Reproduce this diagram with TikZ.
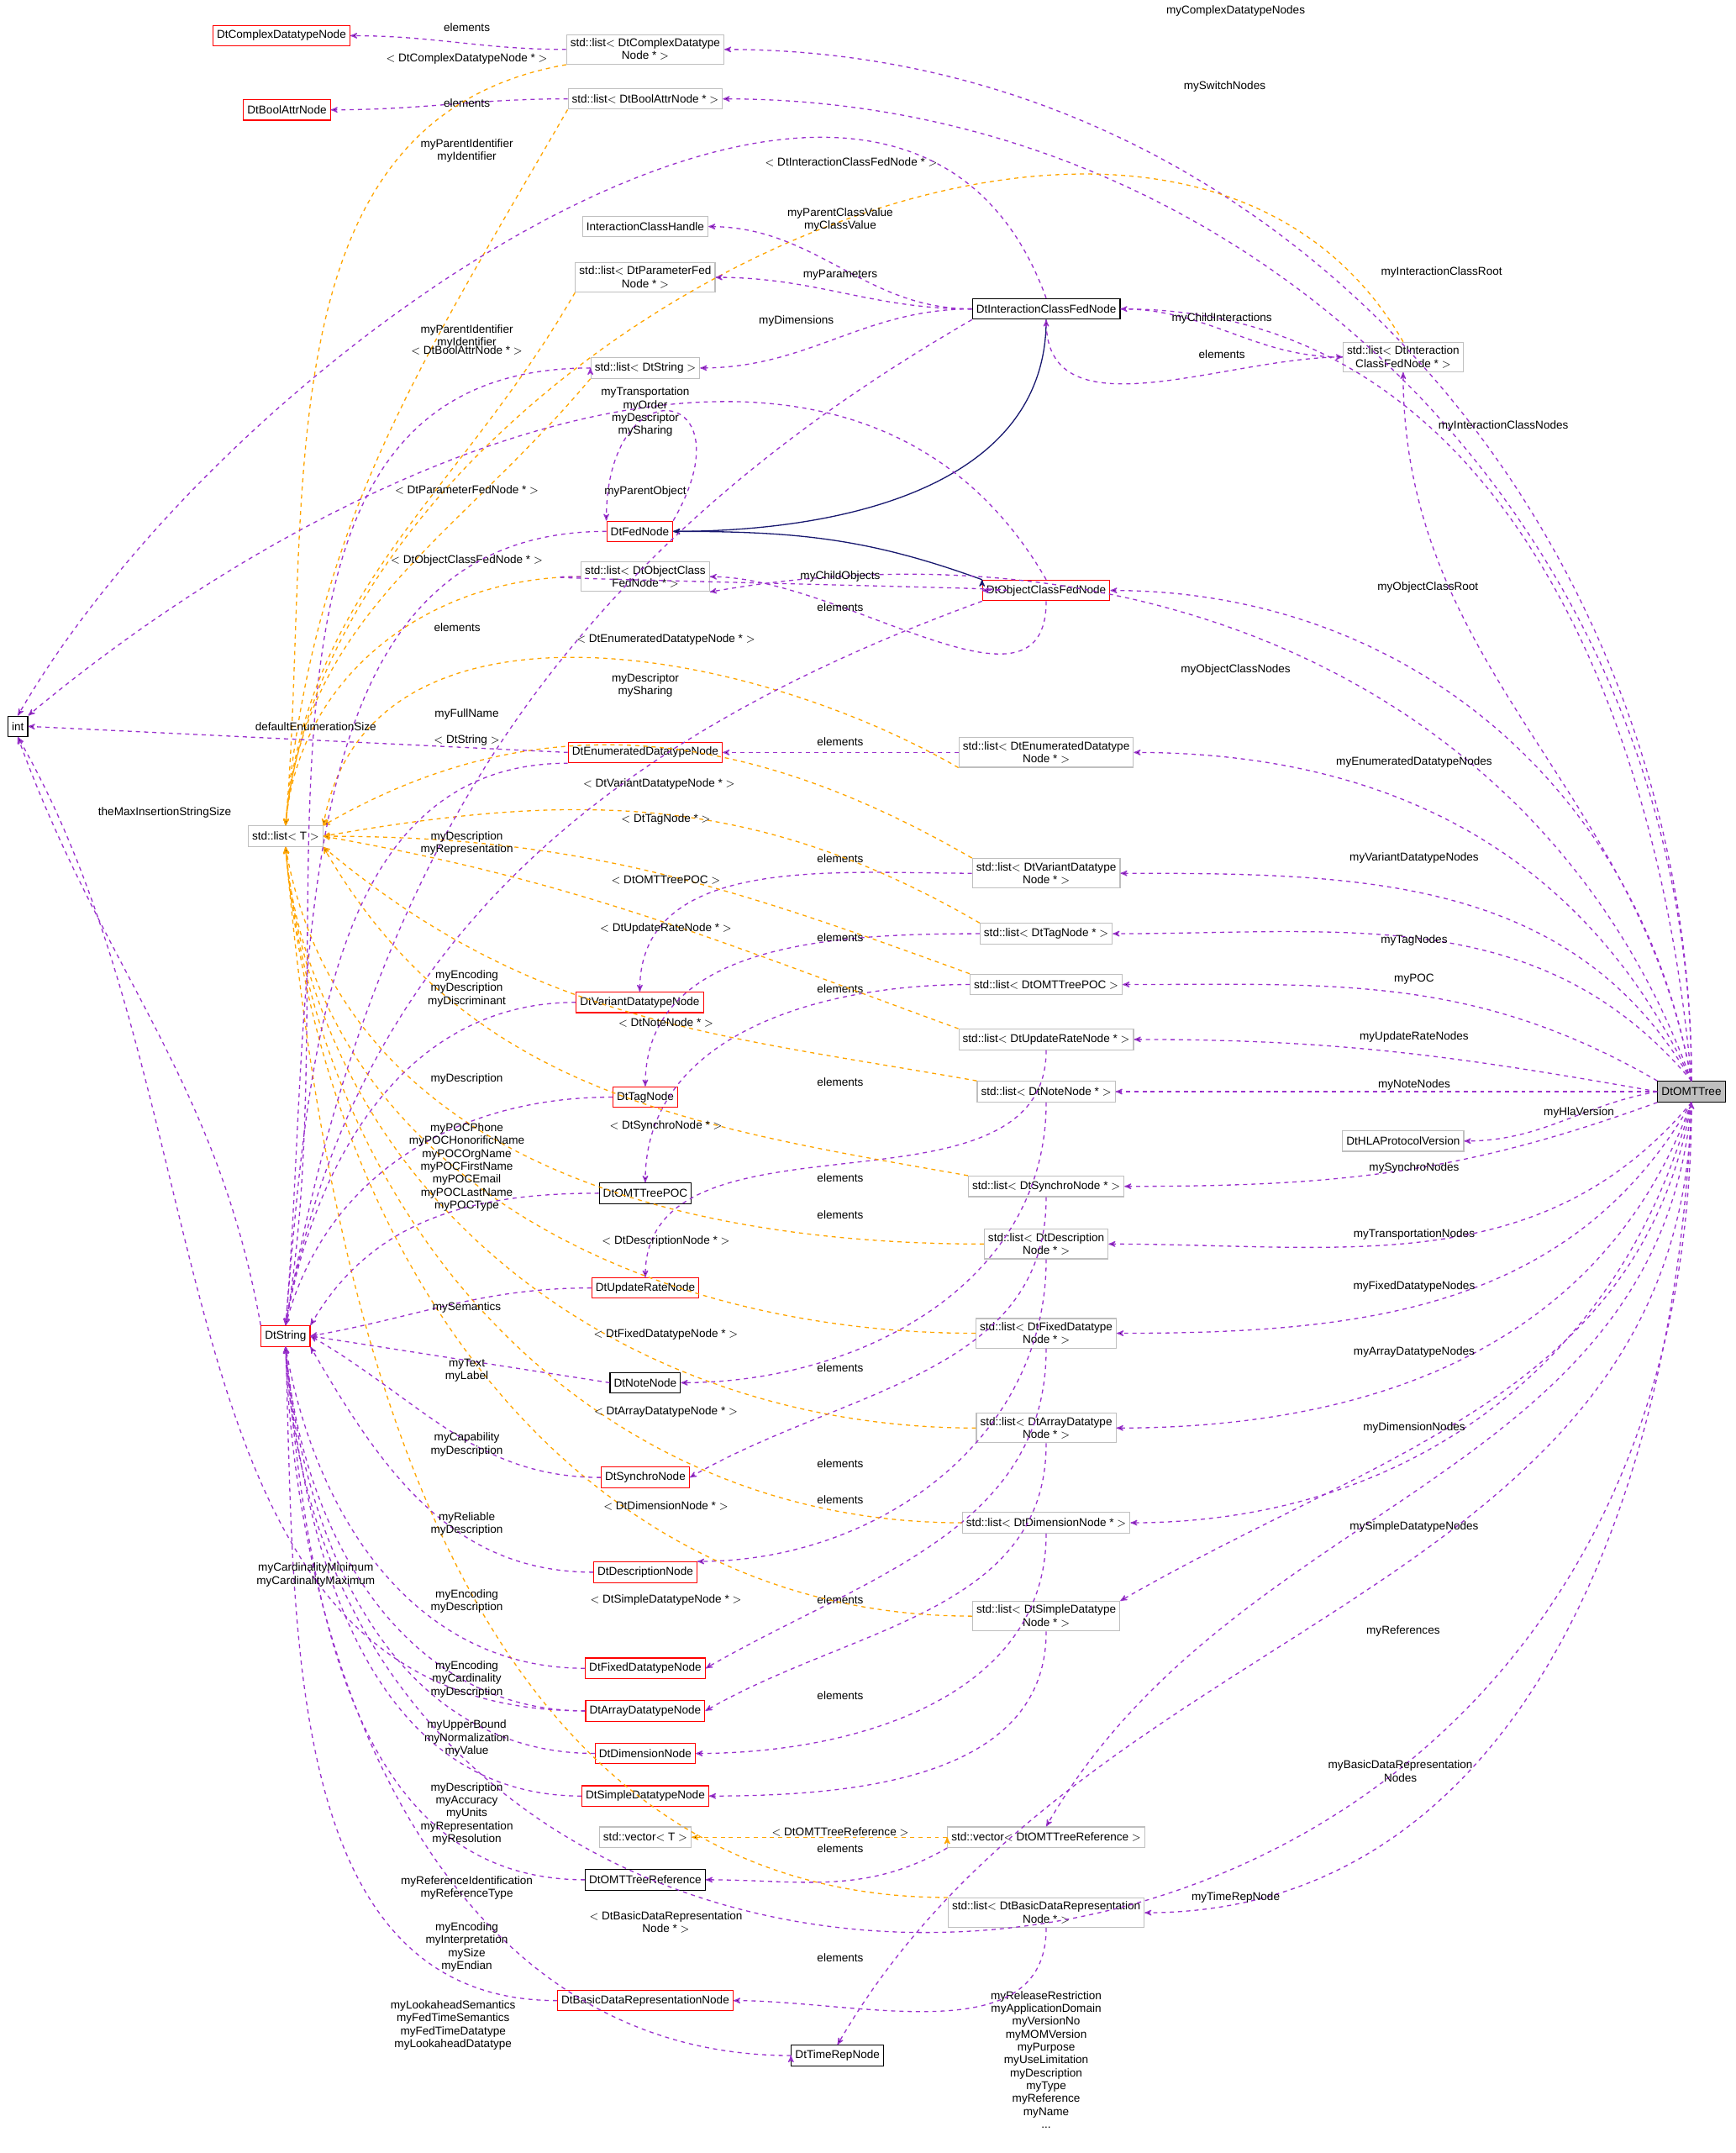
\documentclass[tikz,border=0pt]{standalone}
\usepackage{fontspec}
\setmainfont{Liberation Sans}
\usetikzlibrary{arrows}
\definecolor{usecol}{HTML}{9A32CD}
\definecolor{tplcol}{HTML}{FFA500}
\definecolor{inhcol}{HTML}{191970}
\definecolor{boxgray}{HTML}{BFBFBF}
\begin{document}
\begin{tikzpicture}[x=1pt,y=-1pt,>=stealth',
  font=\fontsize{8.3}{9.4}\selectfont,
  cls/.style={draw=black,line width=0.7pt,inner sep=2.8pt,minimum height=15pt,align=center,fill=white},
  red cls/.style={cls,draw=red},
  tpl cls/.style={cls,draw=boxgray},
  root cls/.style={cls,fill=boxgray},
  use/.style={->,draw=usecol,dashed,line width=0.8pt},
  tpl/.style={->,draw=tplcol,dashed,line width=0.8pt},
  inh/.style={->,draw=inhcol,line width=0.8pt},
  lbl/.style={inner sep=0pt,align=center}]
  \useasboundingbox (0,0) rectangle (1264,1568);
  % classes
  \node[cls] (int) at (13,529) {int};
  \node[red cls] (str) at (208,973) {DtString};
  \node[tpl cls] (T) at (208,609) {std::list$<$ T $>$};
  \node[red cls] (cplx) at (205,26) {DtComplexDatatypeNode};
  \node[red cls] (bool) at (209,80) {DtBoolAttrNode};
  \node[red cls] (fed) at (466,387) {DtFedNode};
  \node[red cls] (enum) at (470,548) {DtEnumeratedDatatypeNode};
  \node[red cls] (var) at (466,730) {DtVariantDatatypeNode};
  \node[red cls] (tag) at (470,799) {DtTagNode};
  \node[cls] (poc) at (470,869) {DtOMTTreePOC};
  \node[red cls] (upd) at (470,938) {DtUpdateRateNode};
  \node[cls] (note) at (470,1007) {DtNoteNode};
  \node[red cls] (sync) at (470,1076) {DtSynchroNode};
  \node[red cls] (desc) at (470,1145) {DtDescriptionNode};
  \node[red cls] (fix) at (470,1215) {DtFixedDatatypeNode};
  \node[red cls] (arr) at (470,1246) {DtArrayDatatypeNode};
  \node[red cls] (dim) at (470,1277) {DtDimensionNode};
  \node[red cls] (simp) at (470,1308) {DtSimpleDatatypeNode};
  \node[tpl cls] (vecT) at (470,1338) {std::vector$<$ T $>$};
  \node[cls] (ref) at (470,1369) {DtOMTTreeReference};
  \node[red cls] (basic) at (470,1457) {DtBasicDataRepresentationNode};
  \node[cls] (time) at (610,1497) {DtTimeRepNode};
  \node[tpl cls] (lcplx) at (470,36) {std::list$<$ DtComplexDatatype\\Node * $>$};
  \node[tpl cls] (lbool) at (470,72) {std::list$<$ DtBoolAttrNode * $>$};
  \node[tpl cls] (ich) at (470,165) {InteractionClassHandle};
  \node[tpl cls] (lpar) at (470,202) {std::list$<$ DtParameterFed\\Node * $>$};
  \node[tpl cls] (lstr) at (470,268) {std::list$<$ DtString $>$};
  \node[cls] (icfn) at (762,225) {DtInteractionClassFedNode};
  \node[tpl cls] (licfn) at (1022,260) {std::list$<$ DtInteraction\\ClassFedNode * $>$};
  \node[tpl cls] (locfn) at (470,420) {std::list$<$ DtObjectClass\\FedNode * $>$};
  \node[red cls] (ocfn) at (762,430) {DtObjectClassFedNode};
  \node[tpl cls] (lenum) at (762,548) {std::list$<$ DtEnumeratedDatatype\\Node * $>$};
  \node[tpl cls] (lvar) at (762,636) {std::list$<$ DtVariantDatatype\\Node * $>$};
  \node[tpl cls] (ltag) at (762,680) {std::list$<$ DtTagNode * $>$};
  \node[tpl cls] (lpoc) at (762,717) {std::list$<$ DtOMTTreePOC $>$};
  \node[tpl cls] (lupd) at (762,757) {std::list$<$ DtUpdateRateNode * $>$};
  \node[tpl cls] (lnote) at (762,795) {std::list$<$ DtNoteNode * $>$};
  \node[tpl cls] (hla) at (1022,831) {DtHLAProtocolVersion};
  \node[tpl cls] (lsync) at (762,864) {std::list$<$ DtSynchroNode * $>$};
  \node[tpl cls] (ldesc) at (762,906) {std::list$<$ DtDescription\\Node * $>$};
  \node[tpl cls] (lfix) at (762,971) {std::list$<$ DtFixedDatatype\\Node * $>$};
  \node[tpl cls] (larr) at (762,1040) {std::list$<$ DtArrayDatatype\\Node * $>$};
  \node[tpl cls] (ldim) at (762,1109) {std::list$<$ DtDimensionNode * $>$};
  \node[tpl cls] (lsimp) at (762,1177) {std::list$<$ DtSimpleDatatype\\Node * $>$};
  \node[tpl cls] (vref) at (762,1338) {std::vector$<$ DtOMTTreeReference $>$};
  \node[tpl cls] (lbasic) at (762,1393) {std::list$<$ DtBasicDataRepresentation\\Node * $>$};
  \node[root cls] (tree) at (1232,795) {DtOMTTree};

  % inheritance
  \path[inh] (icfn.south) edge[out=-90,in=0] (fed.east)
             (ocfn.north west) edge[out=160,in=0] (fed.east);

  % members of DtOMTTree
  \path[use]
    (tree.north) edge[out=90,in=0] (lcplx.east)
    (tree.north) edge[out=90,in=0] (lbool.east)
    (tree.north) edge[out=95,in=0] (icfn.east)
    (tree.north) edge[out=100,in=-90] (licfn.south)
    (tree.north) edge[out=100,in=0] (ocfn.east)
    (tree.north) edge[out=110,in=10] (locfn.south east)
    (tree.north) edge[out=115,in=0] (lenum.east)
    (tree.north) edge[out=120,in=0] (lvar.east)
    (tree.north) edge[out=130,in=0] (ltag.east)
    (tree.north west) edge[out=150,in=0] (lpoc.east)
    (tree.west) edge[out=170,in=0] (lupd.east)
    (tree.west) edge (lnote.east)
    (tree.west) edge[out=-170,in=0] (hla.east)
    (tree.south west) edge[out=-160,in=0] (lsync.east)
    (tree.south) edge[out=-130,in=0] (ldesc.east)
    (tree.south) edge[out=-120,in=0] (lfix.east)
    (tree.south) edge[out=-110,in=0] (larr.east)
    (tree.south) edge[out=-105,in=0] (ldim.east)
    (tree.south) edge[out=-100,in=30] (lsimp.north east)
    (tree.south) edge[out=-95,in=60] (vref.north)
    (tree.south) edge[out=-92,in=0] (lbasic.east)
    (tree.south) edge[out=-91,in=60] (time.north);
  \draw[use] (tree.south) .. controls (1232,1560) and (240,1590) .. (str.south);
  \node[lbl] (l01) at (900,8) {myComplexDatatypeNodes};
  \node[lbl] (l02) at (892,63) {mySwitchNodes};
  \node[lbl] (l03) at (1050,198) {myInteractionClassRoot};
  \node[lbl] (l04) at (1095,310) {myInteractionClassNodes};
  \node[lbl] (l05) at (1040,428) {myObjectClassRoot};
  \node[lbl] (l06) at (900,488) {myObjectClassNodes};
  \node[lbl] (l07) at (1030,555) {myEnumeratedDatatypeNodes};
  \node[lbl] (l08) at (1030,625) {myVariantDatatypeNodes};
  \node[lbl] (l09) at (1030,685) {myTagNodes};
  \node[lbl] (l10) at (1030,713) {myPOC};
  \node[lbl] (l11) at (1030,755) {myUpdateRateNodes};
  \node[lbl] (l12) at (1030,790) {myNoteNodes};
  \node[lbl] (l13) at (1150,810) {myHlaVersion};
  \node[lbl] (l14) at (1030,851) {mySynchroNodes};
  \node[lbl] (l15) at (1030,899) {myTransportationNodes};
  \node[lbl] (l16) at (1030,937) {myFixedDatatypeNodes};
  \node[lbl] (l17) at (1030,985) {myArrayDatatypeNodes};
  \node[lbl] (l18) at (1030,1040) {myDimensionNodes};
  \node[lbl] (l19) at (1030,1112) {mySimpleDatatypeNodes};
  \node[lbl] (l20) at (1022,1188) {myReferences};
  \node[lbl] (l21) at (1020,1290) {myBasicDataRepresentation\\Nodes};
  \node[lbl] (l22) at (900,1382) {myTimeRepNode};
  \node[lbl] (l23) at (762,1500) {myReleaseRestriction\\myApplicationDomain\\myVersionNo\\myMOMVersion\\myPurpose\\myUseLimitation\\myDescription\\myType\\myReference\\myName\\...};

  % list elements
  \path[use]
    (lcplx.west) edge[out=180,in=0] (cplx.east)
    (lbool.west) edge[out=180,in=0] (bool.east)
    (licfn.west) edge[out=180,in=-90] (icfn.south)
    (ocfn.south) edge[out=-90,in=0] (locfn.east)
    (lenum.west) edge (enum.east)
    (lvar.west) edge[out=180,in=90] (var.north)
    (ltag.west) edge[out=180,in=90] (tag.north)
    (lpoc.west) edge[out=180,in=90] (poc.north)
    (lupd.south) edge[out=-90,in=90] (upd.north)
    (lnote.south) edge[out=-90,in=0] (note.east)
    (lsync.south) edge[out=-90,in=30] (sync.east)
    (ldesc.south) edge[out=-90,in=0] (desc.north east)
    (lfix.south) edge[out=-90,in=30] (fix.east)
    (larr.south) edge[out=-90,in=30] (arr.east)
    (ldim.south) edge[out=-90,in=0] (dim.east)
    (lsimp.south) edge[out=-90,in=0] (simp.east)
    (vref.south west) edge[out=-150,in=0] (ref.east)
    (lbasic.south) edge[out=-90,in=0] (basic.east)
    (lstr.west) edge[out=180,in=80] (str.north);
  \node[lbl] (e01) at (340,20) {elements};
  \node[lbl] (e02) at (340,75) {elements};
  \node[lbl] (e03) at (890,258) {elements};
  \node[lbl] (e04) at (612,442) {elements};
  \node[lbl] (e05) at (612,540) {elements};
  \node[lbl] (e06) at (612,625) {elements};
  \node[lbl] (e07) at (612,683) {elements};
  \node[lbl] (e08) at (612,720) {elements};
  \node[lbl] (e09) at (612,788) {elements};
  \node[lbl] (e10) at (612,858) {elements};
  \node[lbl] (e11) at (612,885) {elements};
  \node[lbl] (e12) at (612,996) {elements};
  \node[lbl] (e13) at (612,1066) {elements};
  \node[lbl] (e14) at (612,1092) {elements};
  \node[lbl] (e15) at (612,1165) {elements};
  \node[lbl] (e16) at (612,1235) {elements};
  \node[lbl] (e17) at (612,1346) {elements};
  \node[lbl] (e18) at (612,1426) {elements};
  \node[lbl] (e19) at (333,457) {elements};

  % template instances
  \path[tpl]
    (lcplx.south west) edge[out=-170,in=85] (T.north)
    (lbool.south west) edge[out=-120,in=85] (T.north)
    (licfn.north) edge[out=120,in=85] (T.north)
    (lpar.south west) edge[out=-120,in=85] (T.north)
    (lstr.south west) edge[out=-130,in=85] (T.north)
    (locfn.west) edge[out=180,in=85] (T.north)
    (lenum.south west) edge[out=150,in=80] (T.north east)
    (lvar.north west) edge[out=150,in=30] (T.north east)
    (ltag.north west) edge[out=150,in=10] (T.east)
    (lpoc.north west) edge[out=160,in=0] (T.east)
    (lupd.north west) edge[out=160,in=-10] (T.east)
    (lnote.north west) edge[out=170,in=-40] (T.south east)
    (lsync.north west) edge[out=170,in=-60] (T.south east)
    (ldesc.west) edge[out=180,in=-80] (T.south)
    (lfix.west) edge[out=180,in=-85] (T.south)
    (larr.west) edge[out=180,in=-85] (T.south)
    (ldim.west) edge[out=180,in=-85] (T.south)
    (lsimp.west) edge[out=180,in=-85] (T.south)
    (lbasic.north west) edge[out=180,in=-85] (T.south)
    (vref.west) edge (vecT.east);
  \node[lbl] (t01) at (340,43) {$<$ DtComplexDatatypeNode * $>$};
  \node[lbl] (t02) at (340,255) {$<$ DtBoolAttrNode * $>$};
  \node[lbl] (t03) at (620,118) {$<$ DtInteractionClassFedNode * $>$};
  \node[lbl] (t04) at (340,357) {$<$ DtParameterFedNode * $>$};
  \node[lbl] (t05) at (340,539) {$<$ DtString $>$};
  \node[lbl] (t06) at (340,408) {$<$ DtObjectClassFedNode * $>$};
  \node[lbl] (t07) at (485,466) {$<$ DtEnumeratedDatatypeNode * $>$};
  \node[lbl] (t08) at (480,571) {$<$ DtVariantDatatypeNode * $>$};
  \node[lbl] (t09) at (485,597) {$<$ DtTagNode * $>$};
  \node[lbl] (t10) at (485,641) {$<$ DtOMTTreePOC $>$};
  \node[lbl] (t11) at (485,676) {$<$ DtUpdateRateNode * $>$};
  \node[lbl] (t12) at (485,745) {$<$ DtNoteNode * $>$};
  \node[lbl] (t13) at (485,820) {$<$ DtSynchroNode * $>$};
  \node[lbl] (t14) at (485,904) {$<$ DtDescriptionNode * $>$};
  \node[lbl] (t15) at (485,972) {$<$ DtFixedDatatypeNode * $>$};
  \node[lbl] (t16) at (485,1028) {$<$ DtArrayDatatypeNode * $>$};
  \node[lbl] (t17) at (485,1097) {$<$ DtDimensionNode * $>$};
  \node[lbl] (t18) at (485,1165) {$<$ DtSimpleDatatypeNode * $>$};
  \node[lbl] (t19) at (612,1334) {$<$ DtOMTTreeReference $>$};
  \node[lbl] (t20) at (485,1400) {$<$ DtBasicDataRepresentation\\Node * $>$};

  % members of the other classes
  \path[use]
    (icfn.west) edge[out=180,in=0] (ich.east)
    (icfn.west) edge[out=180,in=0] (lpar.east)
    (icfn.west) edge[out=180,in=0] (lstr.east)
    (icfn.east) edge[out=0,in=180] (licfn.west)
    (icfn.north) edge[out=110,in=60] (int.north)
    (icfn.south west) edge[out=-150,in=80] (str.north)
    (ocfn.north) edge[out=120,in=40] (int.north east)
    (ocfn.south west) edge[out=-160,in=80] (str.north)
    (locfn.west) edge[out=180,in=0] (ocfn.west)
    (fed.north east) edge[out=60,in=90,looseness=6] (fed.north west)
    (fed.west) edge[out=180,in=85] (str.north)
    (enum.west) edge (int.east)
    (str.north west) edge[out=100,in=-70] (int.south)
    (enum.south west) edge[out=180,in=85] (str.north)
    (var.west) edge[out=180,in=80] (str.north)
    (tag.west) edge[out=180,in=75] (str.north)
    (poc.west) edge[out=180,in=60] (str.north east)
    (upd.west) edge[out=180,in=10] (str.east)
    (note.west) edge (str.east)
    (sync.west) edge[out=180,in=-30] (str.east)
    (desc.west) edge[out=180,in=-60] (str.south east)
    (fix.west) edge[out=180,in=-80] (str.south)
    (arr.west) edge[out=180,in=-60] (int.south)
    (arr.west) edge[out=180,in=-85] (str.south)
    (dim.west) edge[out=180,in=-85] (str.south)
    (simp.west) edge[out=180,in=-85] (str.south)
    (ref.west) edge[out=180,in=-85] (str.south)
    (basic.west) edge[out=180,in=-88] (str.south)
    (time.west) edge[out=180,in=-88] (str.south);
  \node[lbl] (m01) at (612,160) {myParentClassValue\\myClassValue};
  \node[lbl] (m02) at (612,200) {myParameters};
  \node[lbl] (m03) at (580,234) {myDimensions};
  \node[lbl] (m04) at (890,232) {myChildInteractions};
  \node[lbl] (m05) at (340,110) {myParentIdentifier\\myIdentifier};
  \node[lbl] (m06) at (470,300) {myTransportation\\myOrder\\myDescriptor\\mySharing};
  \node[lbl] (m07) at (612,420) {myChildObjects};
  \node[lbl] (m08) at (340,245) {myParentIdentifier\\myIdentifier};
  \node[lbl] (m09) at (470,499) {myDescriptor\\mySharing};
  \node[lbl] (m10) at (470,358) {myParentObject};
  \node[lbl] (m11) at (340,520) {myFullName};
  \node[lbl] (m12) at (230,529) {defaultEnumerationSize};
  \node[lbl] (m13) at (120,592) {theMaxInsertionStringSize};
  \node[lbl] (m14) at (340,614) {myDescription\\myRepresentation};
  \node[lbl] (m15) at (340,720) {myEncoding\\myDescription\\myDiscriminant};
  \node[lbl] (m16) at (340,786) {myDescription};
  \node[lbl] (m17) at (340,850) {myPOCPhone\\myPOCHonorificName\\myPOCOrgName\\myPOCFirstName\\myPOCEmail\\myPOCLastName\\myPOCType};
  \node[lbl] (m18) at (340,952) {mySemantics};
  \node[lbl] (m19) at (340,998) {myText\\myLabel};
  \node[lbl] (m20) at (340,1052) {myCapability\\myDescription};
  \node[lbl] (m21) at (340,1110) {myReliable\\myDescription};
  \node[lbl] (m22) at (340,1166) {myEncoding\\myDescription};
  \node[lbl] (m23) at (230,1147) {myCardinalityMinimum\\myCardinalityMaximum};
  \node[lbl] (m24) at (340,1223) {myEncoding\\myCardinality\\myDescription};
  \node[lbl] (m25) at (340,1266) {myUpperBound\\myNormalization\\myValue};
  \node[lbl] (m26) at (340,1321) {myDescription\\myAccuracy\\myUnits\\myRepresentation\\myResolution};
  \node[lbl] (m27) at (340,1375) {myReferenceIdentification\\myReferenceType};
  \node[lbl] (m28) at (340,1418) {myEncoding\\myInterpretation\\mySize\\myEndian};
  \node[lbl] (m29) at (330,1475) {myLookaheadSemantics\\myFedTimeSemantics\\myFedTimeDatatype\\myLookaheadDatatype};
\end{tikzpicture}
\end{document}
